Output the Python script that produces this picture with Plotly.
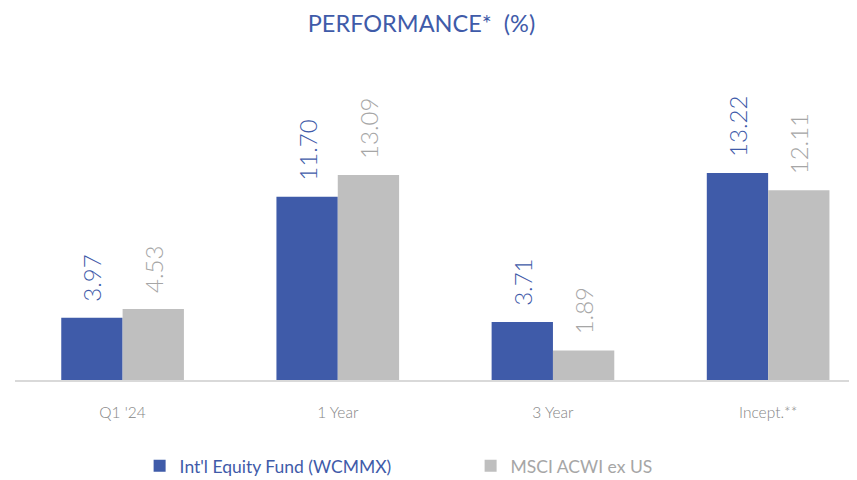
import plotly.graph_objects as go

categories = ["Q1 '24", "1 Year", "3 Year", "Incept.**"]
fund_values = [3.97, 11.70, 3.71, 13.22]
index_values = [4.53, 13.09, 1.89, 12.11]
fund_name = "Int'l Equity Fund (WCMMX)"
index_name = "MSCI ACWI ex US"

BLUE = "#3F5BA9"
GRAY = "#BFBFBF"
LABEL_GRAY = "#A6A6A6"
FONT = "Lato, Open Sans, sans-serif"
PAD = "\u00a0\u00a0"

x = list(range(len(categories)))

fig = go.Figure()
fig.add_bar(
    x=x, y=fund_values, name=f"<span style='color:{BLUE}'>{fund_name}</span>",
    marker=dict(color=BLUE, line=dict(width=0)),
    text=[PAD + f"{v:.2f}" for v in fund_values], textposition="outside", textangle=-90,
    constraintext="none",
    textfont=dict(color=BLUE, size=24, family=FONT, weight=300), cliponaxis=False,
)
fig.add_bar(
    x=x, y=index_values, name=f"<span style='color:{LABEL_GRAY}'>{index_name}</span>",
    marker=dict(color=GRAY, line=dict(width=0)),
    text=[PAD + f"{v:.2f}" for v in index_values], textposition="outside", textangle=-90,
    constraintext="none",
    textfont=dict(color=LABEL_GRAY, size=24, family=FONT, weight=300), cliponaxis=False,
)

fig.update_layout(
    width=849, height=472,
    margin=dict(l=7, r=0, t=42, b=100, autoexpand=False),
    paper_bgcolor="white", plot_bgcolor="white",
    barmode="group", bargap=0.43, bargroupgap=0,
    font=dict(family=FONT),
    title=dict(text="PERFORMANCE*  (%)", x=0.487, xanchor="center", y=0.984, yanchor="top",
               font=dict(size=23.5, color=BLUE, family=FONT)),
    showlegend=True,
    legend=dict(orientation="h", x=0.148, xanchor="left", y=-0.26, yanchor="middle",
                font=dict(size=17.5, family=FONT), itemsizing="constant",
                entrywidth=286, entrywidthmode="pixels"),
    xaxis=dict(tickvals=x, ticktext=categories, range=[-0.5, 3.413], automargin=False,
               showgrid=False, zeroline=False, showline=True, linecolor="#D9D9D9", linewidth=1.5,
               ticks="", ticklabelstandoff=18,
               tickfont=dict(size=15.5, color="#858585", family=FONT, weight=300)),
    yaxis=dict(range=[0, 21.07], visible=False, showgrid=False, zeroline=False, automargin=False),
)

fig.write_html("out.html")
